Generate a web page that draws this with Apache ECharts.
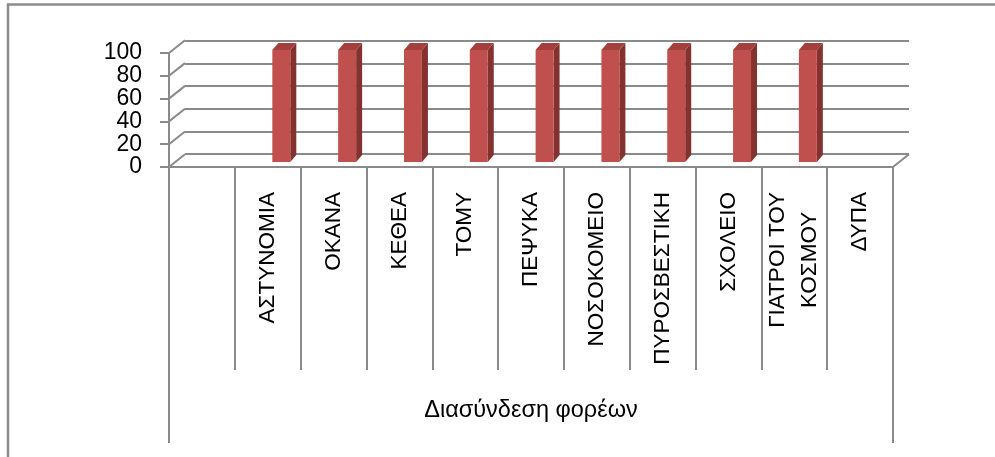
<!DOCTYPE html>
<html><head><meta charset="utf-8">
<script src="https://cdn.jsdelivr.net/npm/echarts@6/dist/echarts.min.js"></script>
<style>html,body{margin:0;padding:0;background:#fff}#c{width:995px;height:457px}</style>
</head><body><div id="c"></div>
<script>
// ---- data ----
const categories = ['', 'ΑΣΤΥΝΟΜΙΑ', 'ΟΚΑΝΑ', 'ΚΕΘΕΑ', 'ΤΟΜΥ', 'ΠΕΨΥΚΑ', 'ΝΟΣΟΚΟΜΕΙΟ', 'ΠΥΡΟΣΒΕΣΤΙΚΗ', 'ΣΧΟΛΕΙΟ', 'ΓΙΑΤΡΟΙ ΤΟΥ ΚΟΣΜΟΥ', 'ΔΥΠΑ'];
const values = [null, 100, 100, 100, 100, 100, 100, 100, 100, 100, null];
const groupLabels = ['Διασύνδεση φορέων'];
const yTicks = [0, 20, 40, 60, 80, 100];

// ---- style ----
const LINE = '#8a8a8a';
const FONT = '"Liberation Sans", Arial, sans-serif';
const WALL_DX = 16, WALL_DY = -12.7;
const BAR_DX = 6, BAR_DY = -7;
const C_FRONT = '#C0504D', C_SIDE = '#84322F', C_TOP = '#A3403D';

function wrapLabel(v) {
  if (!v) return '';
  if (v.length > 14) {
    const i = v.lastIndexOf(' ');
    return '{c|' + v.slice(0, i) + '}\n{c|' + v.slice(i + 1) + '}';
  }
  return '{c|' + v + '}';
}

// y labels are split across two overlaid axes (even / odd ticks) so none is dropped as overlapping
function yLabelAxis(parity, showLine) {
  return {
    gridIndex: 0, type: 'value', min: 0, max: 100, interval: 20, position: 'left', offset: 0,
    axisLine: { show: showLine, lineStyle: { color: LINE, width: 2 } },
    axisTick: { show: showLine, length: 9, lineStyle: { color: LINE, width: 2 } },
    axisLabel: {
      margin: 27, fontSize: 23, fontFamily: FONT, color: '#000', hideOverlap: false,
      formatter: function (v) {
        const k = yTicks.indexOf(v);
        return (k % 2 === parity) ? String(v) : '';
      }
    },
    splitLine: { show: false }
  };
}

const chart = echarts.init(document.getElementById('c'), null, { renderer: 'canvas' });
chart.setOption({
  backgroundColor: '#fff',
  animation: false,
  graphic: [{
    type: 'rect', silent: true, z: 100,
    shape: { x: 8, y: 4.5, width: 1200, height: 700 },
    style: { fill: 'none', stroke: '#8c8c8c', lineWidth: 2.5 }
  }],
  grid: [
    { left: 169, right: 102, top: 53, bottom: 290, outerBoundsMode: 'none', containLabel: false },
    { left: 185, right: 86, top: 41, bottom: 303, outerBoundsMode: 'none', containLabel: false }
  ],
  xAxis: [
    {
      gridIndex: 0, type: 'category', data: categories, boundaryGap: true, position: 'bottom',
      axisLine: { show: true, lineStyle: { color: LINE, width: 2 } },
      axisTick: { show: true, interval: 0, length: 203, lineStyle: { color: LINE, width: 2 } },
      axisLabel: {
        interval: 0, rotate: 90, margin: 25, hideOverlap: false,
        formatter: wrapLabel,
        rich: { c: { align: 'center', fontSize: 22.5, lineHeight: 32, fontFamily: FONT, color: '#000' } }
      },
      splitLine: { show: false }
    },
    {
      gridIndex: 0, type: 'category', data: groupLabels, boundaryGap: true, position: 'bottom', offset: 0,
      axisLine: { show: false },
      axisTick: { show: true, interval: 0, length: 276, lineStyle: { color: LINE, width: 2 } },
      axisLabel: { interval: 0, margin: 232, fontSize: 23.5, fontFamily: FONT, color: '#000' },
      splitLine: { show: false }
    },
    { gridIndex: 1, type: 'category', data: categories, show: false }
  ],
  yAxis: [
    yLabelAxis(0, true),
    {
      gridIndex: 1, type: 'value', min: 0, max: 100, interval: 20,
      axisLine: { show: false }, axisTick: { show: false }, axisLabel: { show: false },
      splitLine: { show: true, lineStyle: { color: LINE, width: 2 } }
    },
    yLabelAxis(1, false)
  ],
  series: [
    {
      type: 'custom', name: 'walls', xAxisIndex: 0, yAxisIndex: 0, silent: true, z: 1,
      data: yTicks.map(v => [0, v]),
      encode: { x: 0, y: 1 },
      renderItem: function (params, api) {
        const band = api.size([1, 0])[0];
        const p = api.coord([0, api.value(1)]);
        const xl = p[0] - band / 2;
        const children = [{
          type: 'line',
          shape: { x1: xl, y1: p[1], x2: xl + WALL_DX, y2: p[1] + WALL_DY },
          style: { stroke: LINE, lineWidth: 2 }
        }];
        if (params.dataIndex === 0) {
          const pr = api.coord([categories.length - 1, api.value(1)]);
          const xr = pr[0] + band / 2;
          children.push({
            type: 'line',
            shape: { x1: xr, y1: pr[1], x2: xr + WALL_DX, y2: pr[1] + WALL_DY },
            style: { stroke: LINE, lineWidth: 2 }
          });
        }
        return { type: 'group', children: children };
      }
    },
    {
      type: 'custom', name: 'Διασύνδεση φορέων', xAxisIndex: 0, yAxisIndex: 0, z: 5,
      data: values.map((v, i) => [i, v]),
      encode: { x: 0, y: 1 },
      renderItem: function (params, api) {
        const v = api.value(1);
        if (v == null || isNaN(v) || v <= 0) return null;
        const i = api.value(0);
        const band = api.size([1, 0])[0];
        const c0 = api.coord([i, 0]);
        const c1 = api.coord([i, v]);
        const xl = c0[0] + band * 0.07, xr = c0[0] + band * 0.343;
        const yb = c0[1] - 5, yt = c1[1] - 3;
        return {
          type: 'group',
          children: [
            { type: 'polygon', shape: { points: [[xr, yt], [xr + BAR_DX, yt + BAR_DY], [xr + BAR_DX, yb + BAR_DY], [xr, yb]] }, style: { fill: C_SIDE } },
            { type: 'polygon', shape: { points: [[xl, yt], [xl + BAR_DX, yt + BAR_DY], [xr + BAR_DX, yt + BAR_DY], [xr, yt]] }, style: { fill: C_TOP } },
            { type: 'rect', shape: { x: xl, y: yt, width: xr - xl, height: yb - yt }, style: { fill: C_FRONT } }
          ]
        };
      }
    }
  ]
});
</script>
</body></html>
